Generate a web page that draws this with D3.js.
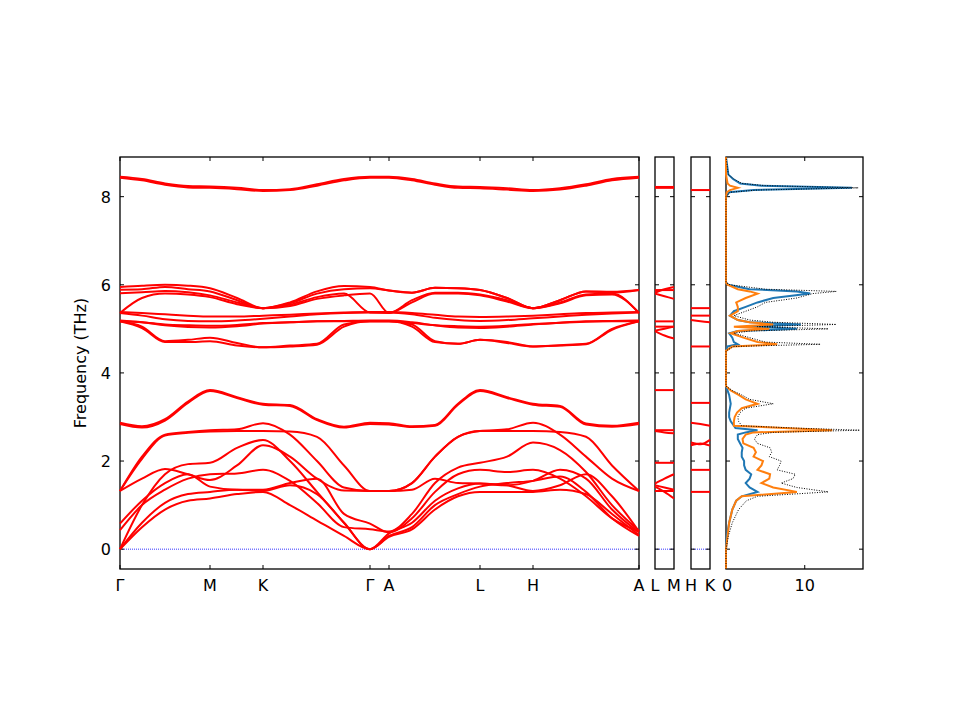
<!DOCTYPE html>
<html>
<head>
<meta charset="utf-8">
<script src="https://cdn.jsdelivr.net/npm/d3@7"></script>
<style>
  body { margin: 0; background: white; }
  text { font-family: "DejaVu Sans", sans-serif; }
</style>
</head>
<body>
<script>
// path positions of the sample points along Γ-M-K-Γ-A-L-H-A
const pathQ = [0, 22, 45, 68, 90, 117, 143, 170, 197, 224, 250, 269, 292, 315, 338, 360, 387, 413, 440, 466, 492, 519];
const pathLabels = ["Γ", "M", "K", "Γ", "A", "L", "H", "A"];
const pathLabelQ = [0, 90, 143, 250, 269, 360, 413, 519];

const bands = [
  [8.45,8.4,8.3,8.24,8.23,8.2,8.15,8.17,8.28,8.4,8.45, 8.45,8.4,8.3,8.23,8.22,8.19,8.15,8.19,8.28,8.4,8.45],
  [8.43,8.37,8.27,8.21,8.2,8.17,8.13,8.15,8.25,8.37,8.43, 8.43,8.37,8.27,8.2,8.19,8.16,8.13,8.16,8.25,8.37,8.43],
  [5.95,5.98,6.0,5.98,5.92,5.7,5.47,5.6,5.85,5.97,5.95, 5.87,5.82,5.93,5.92,5.88,5.7,5.47,5.65,5.85,5.82,5.88],
  [5.89,5.9,5.95,5.9,5.85,5.65,5.47,5.58,5.8,5.9,5.92, 5.87,5.82,5.93,5.92,5.88,5.7,5.47,5.65,5.85,5.84,5.88],
  [5.81,5.83,5.86,5.83,5.76,5.6,5.47,5.55,5.72,5.8,5.37, 5.36,5.65,5.82,5.82,5.78,5.65,5.47,5.6,5.78,5.8,5.36],
  [5.36,5.7,5.8,5.78,5.72,5.56,5.47,5.52,5.68,5.76,5.8, 5.36,5.6,5.8,5.8,5.76,5.62,5.47,5.58,5.76,5.78,5.36],
  [5.38,5.36,5.33,5.3,5.28,5.28,5.3,5.32,5.35,5.37,5.38, 5.38,5.36,5.32,5.28,5.27,5.28,5.3,5.33,5.36,5.37,5.38],
  [5.36,5.3,5.22,5.18,5.17,5.19,5.23,5.28,5.33,5.36,5.37, 5.37,5.33,5.25,5.2,5.18,5.2,5.24,5.28,5.32,5.35,5.37],
  [5.19,5.15,5.08,5.04,5.03,5.06,5.12,5.15,5.17,5.18,5.19, 5.19,5.15,5.08,5.03,5.02,5.05,5.1,5.14,5.17,5.18,5.19],
  [5.17,5.15,5.1,5.08,5.07,5.09,5.13,5.15,5.17,5.17,5.17, 5.17,5.13,5.08,5.06,5.05,5.07,5.11,5.14,5.16,5.17,5.17],
  [5.17,5.05,4.72,4.75,4.8,4.68,4.58,4.62,4.66,5.1,5.17, 5.17,5.1,4.72,4.66,4.75,4.7,4.6,4.63,4.66,5.0,5.17],
  [5.17,5.02,4.7,4.7,4.72,4.62,4.58,4.6,4.64,5.05,5.17, 5.17,5.05,4.7,4.66,4.75,4.68,4.6,4.62,4.65,4.98,5.17],
  [2.87,2.79,2.95,3.35,3.61,3.45,3.3,3.27,2.95,2.78,2.87, 2.86,2.79,2.82,3.3,3.61,3.45,3.3,3.25,2.85,2.8,2.87],
  [2.84,2.76,2.92,3.32,3.59,3.43,3.28,3.25,2.93,2.76,2.84, 2.83,2.77,2.8,3.28,3.59,3.43,3.28,3.23,2.83,2.78,2.84],
  [1.32,2.1,2.6,2.66,2.7,2.72,2.86,2.6,2.0,1.4,1.32, 1.32,1.5,2.1,2.55,2.68,2.72,2.87,2.6,2.1,1.6,1.32],
  [1.32,2.05,2.58,2.64,2.67,2.68,2.68,2.67,2.55,1.9,1.32, 1.32,1.5,2.1,2.55,2.68,2.68,2.68,2.66,2.55,1.9,1.32],
  [0,0.5,0.9,1.1,1.15,1.25,1.3,1.0,0.65,0.3,0, 0.28,0.45,0.9,1.2,1.3,1.3,1.3,1.35,1.25,0.8,0.32],
  [0,0.6,1.05,1.25,1.3,1.35,1.32,1.45,1.25,0.6,0, 0.3,0.5,1.0,1.25,1.42,1.5,1.55,1.65,1.3,0.7,0.3],
  [0,1.0,1.7,1.93,1.96,2.3,2.48,2.0,1.3,0.6,0, 0.36,0.6,1.1,1.38,1.49,1.45,1.55,1.8,1.6,0.9,0.38],
  [0.43,1.0,1.35,1.6,1.7,1.72,1.8,1.55,1.05,0.5,0.45, 0.4,0.8,1.5,1.85,1.96,2.1,2.42,2.25,1.75,1.0,0.42],
  [0.58,1.1,1.5,1.7,1.42,1.35,1.35,1.5,1.6,0.8,0.58, 0.38,0.7,1.3,1.7,1.8,1.75,1.8,1.6,1.2,0.7,0.4],
  [1.32,1.6,1.82,1.7,1.57,1.9,2.36,2.1,1.6,1.33,1.32, 1.32,1.35,1.6,1.5,1.49,1.45,1.32,1.45,1.7,1.2,0.4]
];

// short segments L-M and H-K: values at start, middle, end
const lmBands = [[8.22,8.22,8.22],[8.2,8.2,8.2],[5.88,5.88,5.88],[5.8,5.74,5.68],[5.82,5.9,5.95],[5.17,5.17,5.17],[5.05,5.05,5.05],[4.95,4.85,4.78],[4.96,5.0,5.05],[3.61,3.61,3.61],[2.7,2.7,2.7],[2.68,2.65,2.63],[1.96,1.96,1.96],[1.49,1.6,1.7],[1.45,1.4,1.35],[1.42,1.3,1.15],[1.32,1.32,1.32]];
const hkBands = [[8.15,8.15,8.15],[5.47,5.47,5.47],[5.3,5.3,5.3],[5.2,5.17,5.15],[4.6,4.6,4.6],[3.32,3.32,3.32],[2.87,2.84,2.8],[2.42,2.38,2.48],[2.36,2.4,2.35],[1.8,1.8,1.8],[1.3,1.3,1.3]];

// density of states
const dosFreq = [-0.45,0,0.3,0.6,0.9,1.1,1.2,1.3,1.4,1.5,1.6,1.7,1.8,1.9,2.0,2.1,2.2,2.3,2.4,2.5,2.6,2.65,2.7,2.75,2.8,2.9,3.0,3.1,3.2,3.3,3.4,3.5,3.6,3.7,4.5,4.6,4.65,4.7,4.8,4.9,4.95,5.0,5.05,5.1,5.15,5.2,5.3,5.4,5.5,5.6,5.7,5.8,5.85,5.9,6.0,6.05,8.0,8.1,8.15,8.2,8.25,8.3,8.4,8.5,8.9];
const dosTotal = [0,0,0.3,0.8,1.6,2.6,4,13,9,7,8.5,8.8,6.5,6.8,7,5.5,5.8,5.6,4,3.6,4,6,17,8.6,2,1.6,1.5,1.8,2.5,6,3,2,0.8,0,0,1,12,5,3,1,3,13,4,14,6,3,1,2.5,4,5,9,11,14,5,0.5,0,0,0.5,4,16.8,5,2,1,0.3,0];
const dosBlue = [0,0,0.1,0.4,0.8,1.3,2,4,3,2.5,3,3.2,2.5,2.3,2.3,2,2,2.1,1.8,1.5,1.5,2.5,4,1.2,1,0.6,0.4,0.4,0.5,0.6,0.5,0.4,0.2,0,0,0.2,1.5,1,0.8,0.4,1.5,9,3,9.5,3,1.5,0.5,1,2.5,4,6,10.7,9,3,0.3,0,0,0.4,3.5,16,4.5,1.8,0.9,0.3,0];
const dosOrange = [0,0,0.2,0.4,0.8,1.3,2,9,6,4.5,5.5,5.6,4,4.5,4.7,3.5,3.8,3.5,2.2,2.1,2.5,3.5,13.5,7.4,1,1,1.1,1.4,2,4,2.5,1.6,0.6,0,0,0.8,6.5,4,2.2,0.6,1.5,5.5,1,6,3,1.5,0.5,1.5,1.5,1.3,2.5,4,3,1.5,0.2,0,0,0.1,0.5,1.5,0.5,0.2,0.1,0,0];

const yTicks = [0, 2, 4, 6, 8];

const svg = d3.select('body').append('svg').attr('width', 960).attr('height', 720);
const plotTop = 157, plotBottom = 569;
const y = d3.scaleLinear().domain([-0.45, 8.9]).range([plotBottom, plotTop]);

function frame(x0, x1, zeroLine) {
  const g = svg.append('g');
  if (zeroLine) {
    g.append('line').attr('x1', x0).attr('x2', x1).attr('y1', y(0)).attr('y2', y(0))
      .attr('stroke', 'blue').attr('stroke-width', 0.8).attr('stroke-dasharray', '1,1');
  }
  g.append('rect').attr('x', x0).attr('y', plotTop).attr('width', x1 - x0).attr('height', plotBottom - plotTop)
    .attr('fill', 'none').attr('stroke', 'black').attr('stroke-width', 1.3);
  yTicks.forEach(t => {
    g.append('line').attr('x1', x0).attr('x2', x0 + 4).attr('y1', y(t)).attr('y2', y(t)).attr('stroke', 'black');
    g.append('line').attr('x1', x1 - 4).attr('x2', x1).attr('y1', y(t)).attr('y2', y(t)).attr('stroke', 'black');
  });
  return g;
}

function label(x, txt) {
  svg.append('text').attr('x', x).attr('y', 591).attr('text-anchor', 'middle')
    .style('font-size', '16px').text(txt);
}

// main band panel
const x = d3.scaleLinear().domain([0, 519]).range([120, 639]);
const main = frame(120, 639, true);
const line = d3.line().x((d, i) => x(pathQ[i])).y(d => y(d)).curve(d3.curveMonotoneX);
main.selectAll('path.band').data(bands).enter().append('path').attr('class', 'band')
  .attr('d', line).attr('fill', 'none').attr('stroke', 'red').attr('stroke-width', 2);
pathLabelQ.forEach((q, i) => {
  main.append('line').attr('x1', x(q)).attr('x2', x(q)).attr('y1', plotBottom).attr('y2', plotBottom - 4).attr('stroke', 'black');
  main.append('line').attr('x1', x(q)).attr('x2', x(q)).attr('y1', plotTop).attr('y2', plotTop + 4).attr('stroke', 'black');
  label(x(q), pathLabels[i]);
});
yTicks.forEach(t => {
  svg.append('text').attr('x', 111).attr('y', y(t) + 6).attr('text-anchor', 'end')
    .style('font-size', '16px').text(t);
});
svg.append('text').attr('transform', `translate(86,${(plotTop + plotBottom) / 2}) rotate(-90)`)
  .attr('text-anchor', 'middle').style('font-size', '16px').text('Frequency (THz)');

// short segments
function shortPanel(x0, x1, data, labs) {
  const g = frame(x0, x1, true);
  const sx = d3.scaleLinear().domain([0, 2]).range([x0, x1]);
  const l = d3.line().x((d, i) => sx(i)).y(d => y(d)).curve(d3.curveMonotoneX);
  g.selectAll('path.band').data(data).enter().append('path').attr('class', 'band')
    .attr('d', l).attr('fill', 'none').attr('stroke', 'red').attr('stroke-width', 2);
  label(x0, labs[0]);
  label(x1, labs[1]);
}
shortPanel(655, 674, lmBands, ['L', 'M']);
shortPanel(691, 710, hkBands, ['H', 'K']);

// DOS panel
const dx = d3.scaleLinear().domain([0, 17.4]).range([726, 863]);
const dos = frame(726, 863, false);
[0, 10].forEach(t => {
  dos.append('line').attr('x1', dx(t)).attr('x2', dx(t)).attr('y1', plotBottom).attr('y2', plotBottom - 4).attr('stroke', 'black');
  dos.append('line').attr('x1', dx(t)).attr('x2', dx(t)).attr('y1', plotTop).attr('y2', plotTop + 4).attr('stroke', 'black');
  label(dx(t) + (t === 0 ? 1 : 0), t);
});
const dosLine = vals => d3.line().x((d, i) => dx(vals[i])).y(d => y(d))(dosFreq);
dos.append('path').attr('d', dosLine(dosBlue)).attr('fill', 'none').attr('stroke', '#1f77b4').attr('stroke-width', 2);
dos.append('path').attr('d', dosLine(dosOrange)).attr('fill', 'none').attr('stroke', '#ff7f0e').attr('stroke-width', 2);
dos.append('path').attr('d', dosLine(dosTotal)).attr('fill', 'none').attr('stroke', 'black')
  .attr('stroke-width', 1).attr('stroke-dasharray', '1,1.5');
</script>
</body>
</html>
